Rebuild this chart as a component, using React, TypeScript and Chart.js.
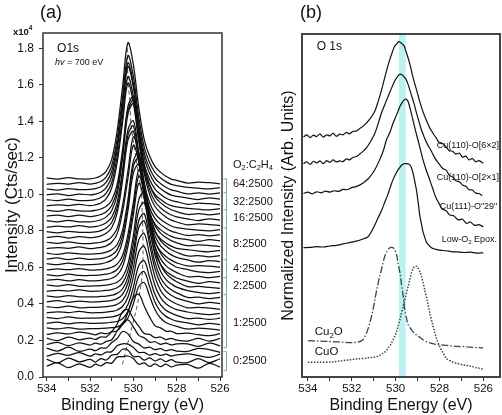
import React, { useEffect, useRef } from 'react';
import { Chart, registerables } from 'chart.js';

Chart.register(...registerables);

const FONT = "'Liberation Sans', Arial, Helvetica, sans-serif";

// ---------------- Panel (a): O1s spectra vs O2:C2H4 ratio ----------------
const energyA = [534, 533.5, 533, 532.5, 532, 531.75, 531.5, 531.25, 531, 530.75, 530.5, 530.25, 530, 529.75, 529.5, 529.25, 529, 528.75, 528.5, 528.25, 528, 527.5, 527, 526.5, 526];

const spec00 = [0.060,0.078,0.051,0.072,0.053,0.071,0.061,0.079,0.076,0.109,0.111,0.115,0.101,0.070,0.077,0.058,0.072,0.057,0.070,0.055,0.065,0.069,0.048,0.075,0.054];
const spec01 = [0.098,0.077,0.104,0.083,0.096,0.082,0.101,0.093,0.120,0.124,0.152,0.147,0.112,0.113,0.092,0.105,0.088,0.099,0.084,0.095,0.081,0.079,0.100,0.079,0.100];
const spec02 = [0.114,0.129,0.119,0.134,0.114,0.126,0.121,0.136,0.139,0.171,0.182,0.180,0.161,0.134,0.135,0.120,0.128,0.118,0.125,0.115,0.121,0.127,0.117,0.107,0.125];
const spec03 = [0.158,0.142,0.163,0.140,0.153,0.144,0.159,0.159,0.189,0.211,0.249,0.236,0.194,0.180,0.159,0.163,0.150,0.155,0.144,0.150,0.142,0.140,0.157,0.150,0.135];
const spec04 = [0.178,0.190,0.172,0.187,0.175,0.186,0.180,0.195,0.204,0.252,0.296,0.312,0.275,0.228,0.215,0.191,0.193,0.179,0.186,0.176,0.182,0.182,0.168,0.185,0.171];
const spec05 = [0.213,0.199,0.218,0.204,0.213,0.206,0.220,0.219,0.249,0.289,0.358,0.368,0.318,0.278,0.238,0.233,0.216,0.219,0.205,0.212,0.202,0.197,0.211,0.197,0.211];
const spec06 = [0.233,0.242,0.236,0.246,0.238,0.231,0.241,0.237,0.247,0.253,0.288,0.353,0.435,0.453,0.389,0.328,0.281,0.269,0.251,0.250,0.238,0.240,0.232,0.226,0.237];
const spec07 = [0.269,0.263,0.271,0.262,0.265,0.265,0.266,0.267,0.270,0.275,0.288,0.324,0.401,0.496,0.517,0.443,0.368,0.323,0.299,0.286,0.277,0.263,0.267,0.263,0.257];
const spec08 = [0.294,0.300,0.291,0.298,0.294,0.294,0.295,0.296,0.300,0.304,0.319,0.360,0.446,0.553,0.577,0.494,0.409,0.359,0.332,0.317,0.306,0.296,0.286,0.294,0.287];
const spec09 = [0.327,0.320,0.329,0.322,0.323,0.323,0.324,0.326,0.329,0.336,0.352,0.397,0.492,0.611,0.637,0.545,0.452,0.396,0.366,0.350,0.338,0.320,0.323,0.315,0.322];
const spec10 = [0.351,0.357,0.353,0.359,0.352,0.352,0.353,0.355,0.359,0.367,0.386,0.438,0.548,0.685,0.716,0.609,0.500,0.436,0.401,0.382,0.369,0.356,0.347,0.342,0.349];
const spec11 = [0.386,0.380,0.388,0.379,0.381,0.381,0.383,0.385,0.389,0.398,0.419,0.477,0.599,0.752,0.786,0.667,0.547,0.475,0.436,0.415,0.400,0.379,0.381,0.377,0.371];
const spec12 = [0.412,0.418,0.409,0.416,0.411,0.411,0.413,0.415,0.420,0.429,0.452,0.515,0.650,0.818,0.855,0.725,0.592,0.513,0.471,0.448,0.432,0.414,0.401,0.409,0.402];
const spec13 = [0.444,0.437,0.446,0.439,0.439,0.439,0.441,0.443,0.448,0.458,0.482,0.547,0.685,0.857,0.895,0.761,0.626,0.545,0.502,0.478,0.461,0.436,0.437,0.429,0.436];
const spec14 = [0.469,0.475,0.471,0.477,0.469,0.470,0.471,0.474,0.479,0.489,0.514,0.583,0.731,0.914,0.955,0.812,0.668,0.581,0.535,0.510,0.492,0.473,0.463,0.457,0.464];
const spec15 = [0.504,0.498,0.506,0.497,0.498,0.499,0.500,0.503,0.509,0.519,0.546,0.619,0.776,0.971,1.014,0.863,0.708,0.616,0.568,0.541,0.522,0.495,0.496,0.491,0.485];
const spec16 = [0.529,0.535,0.526,0.533,0.526,0.527,0.529,0.533,0.541,0.558,0.604,0.716,0.888,1.060,0.974,0.808,0.682,0.618,0.580,0.559,0.542,0.525,0.513,0.522,0.515];
const spec17 = [0.561,0.554,0.563,0.556,0.556,0.557,0.559,0.563,0.571,0.589,0.635,0.750,0.925,1.100,1.012,0.843,0.714,0.648,0.610,0.588,0.572,0.549,0.551,0.544,0.551];
const spec18 = [0.586,0.592,0.588,0.594,0.585,0.586,0.588,0.592,0.601,0.618,0.665,0.781,0.958,1.135,1.047,0.875,0.745,0.679,0.640,0.618,0.601,0.588,0.576,0.572,0.579];
const spec19 = [0.621,0.615,0.623,0.615,0.616,0.617,0.620,0.627,0.640,0.666,0.743,0.911,1.118,1.164,1.003,0.841,0.740,0.689,0.660,0.640,0.625,0.608,0.610,0.607,0.601];
const spec20 = [0.646,0.652,0.643,0.651,0.644,0.646,0.648,0.655,0.668,0.696,0.775,0.944,1.155,1.202,1.038,0.874,0.772,0.719,0.690,0.669,0.655,0.641,0.629,0.638,0.631];
const spec21 = [0.678,0.671,0.680,0.674,0.673,0.675,0.677,0.684,0.697,0.724,0.803,0.972,1.183,1.230,1.066,0.902,0.800,0.747,0.718,0.697,0.683,0.663,0.665,0.658,0.665];
const spec22 = [0.703,0.709,0.705,0.712,0.703,0.706,0.710,0.718,0.738,0.784,0.904,1.087,1.270,1.178,1.001,0.870,0.797,0.757,0.734,0.717,0.705,0.697,0.690,0.686,0.693];
const spec23 = [0.738,0.732,0.740,0.732,0.731,0.734,0.738,0.747,0.767,0.814,0.938,1.127,1.315,1.221,1.038,0.903,0.829,0.788,0.764,0.747,0.735,0.719,0.723,0.720,0.714];
const spec24 = [0.764,0.770,0.761,0.769,0.763,0.766,0.773,0.787,0.817,0.897,1.076,1.297,1.346,1.174,1.002,0.897,0.838,0.807,0.786,0.770,0.761,0.752,0.743,0.752,0.745];
const spec25 = [0.796,0.789,0.798,0.792,0.792,0.795,0.802,0.816,0.846,0.926,1.105,1.326,1.375,1.203,1.031,0.926,0.867,0.836,0.815,0.799,0.790,0.775,0.780,0.773,0.780];
const spec26 = [0.820,0.826,0.822,0.829,0.821,0.824,0.831,0.845,0.875,0.954,1.133,1.354,1.403,1.231,1.059,0.954,0.895,0.864,0.843,0.827,0.818,0.810,0.804,0.800,0.807];
const spec27 = [0.856,0.850,0.858,0.850,0.850,0.853,0.861,0.877,0.911,0.999,1.197,1.441,1.496,1.305,1.115,0.999,0.934,0.900,0.876,0.859,0.849,0.833,0.838,0.835,0.829];
const spec28 = [0.881,0.887,0.878,0.886,0.879,0.882,0.890,0.905,0.939,1.025,1.219,1.461,1.514,1.327,1.139,1.025,0.961,0.927,0.904,0.887,0.877,0.866,0.857,0.866,0.859];
const spec29 = [0.914,0.907,0.916,0.910,0.909,0.912,0.920,0.935,0.968,1.053,1.244,1.482,1.535,1.350,1.165,1.053,0.988,0.955,0.932,0.916,0.906,0.890,0.895,0.888,0.895];
const spec30 = [0.937,0.943,0.939,0.946,0.938,0.943,0.953,0.977,1.035,1.174,1.392,1.610,1.501,1.290,1.133,1.052,1.000,0.973,0.952,0.939,0.932,0.924,0.919,0.915,0.922];
const spec31 = [0.972,0.966,0.974,0.966,0.967,0.972,0.983,1.007,1.065,1.205,1.425,1.645,1.535,1.322,1.164,1.082,1.029,1.001,0.980,0.967,0.960,0.946,0.952,0.949,0.943];
const spec32 = [0.997,1.003,0.994,1.002,0.997,1.002,1.012,1.037,1.098,1.244,1.472,1.700,1.586,1.365,1.201,1.115,1.060,1.032,1.011,0.996,0.989,0.980,0.972,0.981,0.974];
const spec33 = [1.030,1.023,1.032,1.026,1.027,1.032,1.042,1.067,1.127,1.269,1.495,1.720,1.607,1.389,1.227,1.143,1.088,1.060,1.039,1.025,1.018,1.003,1.009,1.002,1.009];
const spec34 = [1.055,1.061,1.057,1.064,1.056,1.061,1.071,1.096,1.157,1.303,1.532,1.760,1.646,1.424,1.260,1.175,1.120,1.091,1.070,1.055,1.048,1.039,1.034,1.030,1.037];
const spec35 = [1.090,1.084,1.092,1.085,1.085,1.090,1.102,1.128,1.192,1.346,1.588,1.830,1.709,1.475,1.301,1.210,1.152,1.122,1.099,1.084,1.077,1.062,1.067,1.064,1.058];

const spectraA = [spec00, spec01, spec02, spec03, spec04, spec05, spec06, spec07, spec08, spec09, spec10, spec11, spec12, spec13, spec14, spec15, spec16, spec17, spec18, spec19, spec20, spec21, spec22, spec23, spec24, spec25, spec26, spec27, spec28, spec29, spec30, spec31, spec32, spec33, spec34, spec35];

// dashed trace of the peak maximum
const traceEnergy = [530.5, 529.62, 529.62, 529.75, 529.88, 530.0, 530.12, 530.17, 530.25, 530.28];
const traceValue = [0.07, 0.53, 1.0, 1.1, 1.2, 1.29, 1.4, 1.52, 1.63, 1.80];

const ratioLabels = ['64:2500', '32:2500', '16:2500', '8:2500', '4:2500', '2:2500', '1:2500', '0:2500'];
const ratioLabelLevels = [1.058, 0.96, 0.872, 0.73, 0.593, 0.5, 0.298, 0.09];
const ratioHeaderLevel = 1.162;
const bracketMain = [1.085, 1.009, 0.916, 0.817, 0.642, 0.544, 0.451, 0.161];
const bracketZero = [0.139, 0.036];

// ---------------- Panel (b): normalized reference spectra ----------------
const e6x2 = [534.2,534.05,533.9,533.75,533.6,533.45,533.3,533.15,533.0,532.85,532.7,532.55,532.4,532.25,532.1,531.95,531.8,531.64,531.45,531.18,530.95,530.8,530.65,530.5,530.35,530.2,530.05,529.95,529.86,529.75,529.62,529.51,529.35,529.21,529.05,528.9,528.75,528.59,528.45,528.29,528.15,528.0,527.85,527.7,527.55,527.4,527.25,527.1,526.95,526.8,526.65,526.5,526.35,526.2,526.0];
const v6x2 = [7.00,7.06,6.98,7.05,7.01,7.09,6.99,7.06,7.03,7.10,7.02,7.08,7.06,7.13,7.09,7.16,7.17,7.24,7.33,7.52,7.75,8.03,8.35,8.72,9.08,9.38,9.64,9.71,9.78,9.74,9.66,9.46,9.12,8.74,8.38,8.03,7.73,7.47,7.27,7.10,6.97,6.82,6.80,6.70,6.60,6.58,6.50,6.53,6.41,6.44,6.33,6.37,6.27,6.31,6.23];

const e2x1 = [534.2,534.05,533.9,533.75,533.6,533.45,533.3,533.15,533.0,532.85,532.7,532.55,532.4,532.25,532.1,531.95,531.79,531.6,531.45,531.33,531.15,530.95,530.8,530.65,530.5,530.35,530.2,530.05,529.89,529.78,529.65,529.51,529.4,529.28,529.15,529.05,528.95,528.82,528.7,528.53,528.4,528.21,528.05,527.85,527.7,527.55,527.4,527.25,527.1,526.95,526.8,526.65,526.5,526.35,526.2,526.05];
const v2x1 = [6.22,6.27,6.20,6.29,6.24,6.30,6.22,6.31,6.26,6.33,6.27,6.30,6.28,6.36,6.33,6.40,6.43,6.52,6.60,6.68,6.86,7.10,7.38,7.69,7.93,8.17,8.40,8.62,8.78,8.83,8.78,8.66,8.47,8.22,7.95,7.70,7.48,7.20,7.00,6.76,6.62,6.38,6.24,6.08,6.03,5.88,5.83,5.72,5.69,5.60,5.56,5.46,5.45,5.36,5.35,5.29];

const eCu111 = [534.2,534.0,533.8,533.6,533.4,533.2,533.0,532.8,532.6,532.4,532.2,532.0,531.8,531.5,531.25,531.05,530.9,530.73,530.55,530.42,530.25,530.12,529.95,529.81,529.68,529.58,529.5,529.43,529.32,529.21,529.1,528.98,528.86,528.75,528.6,528.44,528.3,528.17,528.0,527.89,527.7,527.53,527.35,527.15,526.95,526.77,526.6,526.4,526.2,526.0];
const vCu111 = [5.35,5.39,5.34,5.40,5.37,5.42,5.39,5.43,5.41,5.47,5.46,5.52,5.55,5.65,5.78,5.94,6.10,6.33,6.62,6.91,7.15,7.40,7.65,7.88,8.02,8.10,8.09,8.03,7.78,7.49,7.20,6.91,6.61,6.33,6.02,5.74,5.48,5.24,5.04,4.90,4.85,4.72,4.70,4.58,4.60,4.48,4.52,4.42,4.44,4.38];

const eLowO2 = [534.2,533.9,533.6,533.3,533.0,532.7,532.4,532.1,531.8,531.55,531.27,531.1,530.95,530.8,530.63,530.5,530.36,530.25,530.13,530.0,529.9,529.8,529.72,529.65,529.58,529.5,529.4,529.3,529.22,529.14,529.05,528.97,528.9,528.82,528.75,528.66,528.58,528.45,528.35,528.2,527.99,527.7,527.4,527.21,526.9,526.6,526.3,526.0];
const vLowO2 = [3.77,3.78,3.80,3.79,3.82,3.84,3.88,3.92,3.96,4.01,4.08,4.24,4.43,4.64,4.87,5.09,5.31,5.52,5.74,5.91,6.03,6.12,6.18,6.21,6.22,6.22,6.21,6.14,5.98,5.75,5.45,5.08,4.72,4.45,4.23,4.05,3.91,3.82,3.76,3.73,3.70,3.68,3.65,3.65,3.63,3.64,3.61,3.62];

const eCu2O = [534.0,533.6,533.2,532.86,532.5,532.1,531.8,531.64,531.5,531.41,531.3,531.18,531.05,530.95,530.85,530.73,530.6,530.5,530.4,530.3,530.19,530.1,530.04,529.95,529.89,529.8,529.74,529.65,529.58,529.5,529.43,529.3,529.21,529.1,528.98,528.8,528.59,528.4,528.14,527.8,527.53,527.2,526.77,526.4,526.01];
const vCu2O = [1.06,1.05,1.04,1.03,1.02,1.00,1.01,1.03,1.08,1.17,1.33,1.57,1.90,2.24,2.58,2.92,3.26,3.51,3.66,3.75,3.78,3.76,3.70,3.55,3.31,3.03,2.73,2.33,1.95,1.70,1.52,1.40,1.32,1.25,1.20,1.11,1.03,0.99,0.95,0.93,0.91,0.89,0.88,0.86,0.85];

const eCuO = [534.0,533.5,532.86,532.5,532.1,531.7,531.33,531.1,530.88,530.7,530.58,530.45,530.35,530.22,530.12,530.0,529.89,529.78,529.66,529.55,529.43,529.35,529.28,529.2,529.13,529.05,528.98,528.9,528.82,528.75,528.67,528.55,528.44,528.32,528.21,528.1,527.99,527.85,527.68,527.45,527.22,526.9,526.62,526.3,526.01];
const vCuO = [0.43,0.43,0.44,0.47,0.50,0.53,0.55,0.57,0.59,0.64,0.69,0.75,0.84,0.95,1.08,1.25,1.47,1.74,2.05,2.34,2.64,2.85,3.03,3.16,3.22,3.23,3.17,3.08,2.93,2.76,2.54,2.20,1.86,1.55,1.28,1.06,0.89,0.72,0.54,0.45,0.40,0.35,0.32,0.27,0.23];

const highlightBand = [529.85, 529.54];

// ---------------- helpers ----------------
type Part = [string, 'n' | 'sub' | 'sup' | 'i'];

function drawRich(ctx: CanvasRenderingContext2D, parts: Part[], x: number, y: number, size: number, align: 'left' | 'center' = 'left', weight = 'normal') {
  const fontFor = (m: string) => {
    const s = m === 'sub' || m === 'sup' ? size * 0.68 : size;
    const st = m === 'i' ? 'italic ' : '';
    return `${st}${weight} ${s}px ${FONT}`;
  };
  let total = 0;
  for (const [t, m] of parts) {
    ctx.font = fontFor(m);
    total += ctx.measureText(t).width;
  }
  let cx = align === 'center' ? x - total / 2 : x;
  ctx.textBaseline = 'middle';
  ctx.textAlign = 'left';
  for (const [t, m] of parts) {
    ctx.font = fontFor(m);
    const dy = m === 'sub' ? size * 0.3 : m === 'sup' ? -size * 0.35 : 0;
    ctx.fillText(t, cx, y + dy);
    cx += ctx.measureText(t).width;
  }
}

const toPoints = (xs: number[], ys: number[]) => xs.map((x, i) => ({ x, y: ys[i] }));

const tickGrid = { display: true, drawOnChartArea: false, drawTicks: true, tickLength: 4, color: '#333', lineWidth: 1 };

export default function App() {
  const refA = useRef<HTMLCanvasElement | null>(null);
  const refB = useRef<HTMLCanvasElement | null>(null);

  useEffect(() => {
    if (!refA.current || !refB.current) return;

    const extrasA = {
      id: 'extrasA',
      afterDraw(chart: any) {
        const { ctx, chartArea: ca, scales } = chart;
        const x = scales.x;
        const y = scales.y;
        ctx.save();
        ctx.strokeStyle = '#333';
        ctx.lineWidth = 1.5;
        ctx.strokeRect(ca.left, ca.top, ca.right - ca.left, ca.bottom - ca.top);
        ctx.fillStyle = '#111';
        drawRich(ctx, [['(a)', 'n']], ca.left + 8, 13, 18, 'center');
        drawRich(ctx, [['x10', 'n'], ['4', 'sup']], ca.left - 30, ca.top - 1, 9.5, 'left', 'bold');
        drawRich(ctx, [['O1s', 'n']], x.getPixelForValue(533.52), y.getPixelForValue(1.8), 12);
        drawRich(ctx, [['hv', 'i'], [' = 700 eV', 'n']], x.getPixelForValue(533.62), y.getPixelForValue(1.725), 9);
        const lx = ca.right + 11;
        drawRich(ctx, [['O', 'n'], ['2', 'sub'], [':C', 'n'], ['2', 'sub'], ['H', 'n'], ['4', 'sub']], lx, y.getPixelForValue(ratioHeaderLevel), 11);
        ratioLabels.forEach((t, i) => drawRich(ctx, [[t, 'n']], lx, y.getPixelForValue(ratioLabelLevels[i]), 11));
        ctx.strokeStyle = '#7fa7b1';
        ctx.lineWidth = 1;
        const bx = ca.right + 4.5;
        const drawBracket = (levels: number[]) => {
          const ys = levels.map((v) => y.getPixelForValue(v));
          ctx.beginPath();
          ctx.moveTo(bx, ys[0]);
          ctx.lineTo(bx, ys[ys.length - 1]);
          ys.forEach((py) => {
            ctx.moveTo(bx - 3, py);
            ctx.lineTo(bx, py);
          });
          ctx.stroke();
        };
        drawBracket(bracketMain);
        drawBracket(bracketZero);
        ctx.restore();
      },
    };

    const extrasB = {
      id: 'extrasB',
      beforeDatasetsDraw(chart: any) {
        const { ctx, chartArea: ca, scales } = chart;
        const x1 = scales.x.getPixelForValue(highlightBand[0]);
        const x2 = scales.x.getPixelForValue(highlightBand[1]);
        ctx.save();
        ctx.fillStyle = '#bdf0f3';
        ctx.fillRect(Math.min(x1, x2), ca.top, Math.abs(x2 - x1), ca.bottom - ca.top);
        ctx.restore();
      },
      afterDraw(chart: any) {
        const { ctx, chartArea: ca, scales } = chart;
        const x = scales.x;
        const y = scales.y;
        ctx.save();
        ctx.strokeStyle = '#444';
        ctx.lineWidth = 2;
        ctx.strokeRect(ca.left, ca.top, ca.right - ca.left, ca.bottom - ca.top);
        ctx.fillStyle = '#111';
        drawRich(ctx, [['(b)', 'n']], ca.left + 9, 13, 18, 'center');
        drawRich(ctx, [['O 1s', 'n']], x.getPixelForValue(533.6), y.getPixelForValue(9.62), 12);
        drawRich(ctx, [['Cu(110)-O[6×2]', 'n']], x.getPixelForValue(528.12), y.getPixelForValue(6.76), 9);
        drawRich(ctx, [['Cu(110)-O[2×1]', 'n']], x.getPixelForValue(528.12), y.getPixelForValue(5.83), 9);
        drawRich(ctx, [['Cu(111)-O"29"', 'n']], x.getPixelForValue(527.99), y.getPixelForValue(4.96), 9);
        drawRich(ctx, [['Low-O', 'n'], ['2', 'sub'], [' Epox.', 'n']], x.getPixelForValue(527.9), y.getPixelForValue(4.02), 9);
        drawRich(ctx, [['Cu', 'n'], ['2', 'sub'], ['O', 'n']], x.getPixelForValue(533.69), y.getPixelForValue(1.31), 11.5);
        drawRich(ctx, [['CuO', 'n']], x.getPixelForValue(533.69), y.getPixelForValue(0.73), 11.5);
        ctx.restore();
      },
    };

    const datasetsA: any[] = spectraA.map((vals) => ({
      data: toPoints(energyA, vals),
      borderColor: '#111',
      borderWidth: 1.25,
      pointRadius: 0,
      tension: 0.35,
      fill: false,
    }));
    datasetsA.push({
      data: toPoints(traceEnergy, traceValue),
      borderColor: '#555',
      borderWidth: 1,
      borderDash: [4, 3],
      pointRadius: 0,
      tension: 0.3,
      fill: false,
    });

    const chartA = new Chart(refA.current, {
      type: 'line',
      data: { datasets: datasetsA },
      options: {
        responsive: false,
        animation: false,
        devicePixelRatio: 1,
        events: [],
        layout: { padding: { left: 0, top: 33, right: 58, bottom: 0 } },
        plugins: { legend: { display: false }, tooltip: { enabled: false } },
        scales: {
          x: {
            type: 'linear',
            reverse: true,
            min: 525.91,
            max: 534.17,
            afterFit: (s: any) => { s.height = 38; },
            border: { display: false },
            grid: tickGrid,
            ticks: {
              stepSize: 1,
              includeBounds: false,
              autoSkip: false,
              maxRotation: 0,
              padding: 1,
              color: '#111',
              font: { size: 11.5, family: FONT },
              callback: (v: any) => (Math.round(Number(v)) % 2 === 0 ? String(v) : ''),
            },
            title: { display: true, text: 'Binding Energy (eV)', color: '#111', font: { size: 16, family: FONT }, padding: { top: 0, bottom: 0 } },
          },
          y: {
            type: 'linear',
            min: 0,
            max: 1.884,
            afterFit: (s: any) => { s.width = 43; },
            border: { display: false },
            grid: tickGrid,
            ticks: {
              stepSize: 0.2,
              includeBounds: false,
              autoSkip: false,
              padding: 5,
              color: '#111',
              font: { size: 12, family: FONT },
              callback: (v: any) => Number(v).toFixed(1),
            },
            title: { display: true, text: 'Intensity (Cts/sec)', color: '#111', font: { size: 17, family: FONT }, padding: { top: 2, bottom: 0 } },
          },
        },
      } as any,
      plugins: [extrasA],
    });

    const solid = (xs: number[], ys: number[]) => ({
      data: toPoints(xs, ys),
      borderColor: '#111',
      borderWidth: 1.2,
      pointRadius: 0,
      tension: 0.25,
      fill: false,
    });

    const chartB = new Chart(refB.current, {
      type: 'line',
      data: {
        datasets: [
          solid(e6x2, v6x2),
          solid(e2x1, v2x1),
          solid(eCu111, vCu111),
          solid(eLowO2, vLowO2),
          { data: toPoints(eCu2O, vCu2O), borderColor: '#2e4a50', borderWidth: 1.3, borderDash: [7, 2, 1.5, 2], pointRadius: 0, tension: 0.3, fill: false },
          { data: toPoints(eCuO, vCuO), borderColor: '#36474c', borderWidth: 1.5, borderDash: [1.5, 1.5], pointRadius: 0, tension: 0.3, fill: false },
        ],
      },
      options: {
        responsive: false,
        animation: false,
        devicePixelRatio: 1,
        events: [],
        layout: { padding: { left: 0, top: 34, right: 2, bottom: 0 } },
        plugins: { legend: { display: false }, tooltip: { enabled: false } },
        scales: {
          x: {
            type: 'linear',
            reverse: true,
            min: 525.24,
            max: 534.27,
            afterFit: (s: any) => { s.height = 38; },
            border: { display: false },
            grid: tickGrid,
            ticks: {
              stepSize: 1,
              includeBounds: false,
              autoSkip: false,
              maxRotation: 0,
              padding: 1,
              color: '#111',
              font: { size: 11.5, family: FONT },
              callback: (v: any) => (Math.round(Number(v)) % 2 === 0 ? String(v) : ''),
            },
            title: { display: true, text: 'Binding Energy (eV)', color: '#111', font: { size: 16, family: FONT }, padding: { top: 0, bottom: 0 } },
          },
          y: {
            type: 'linear',
            min: 0,
            max: 10,
            afterFit: (s: any) => { s.width = 52; },
            border: { display: false },
            grid: { display: false },
            ticks: { display: false },
            title: { display: true, text: 'Normalized Intensity (Arb. Units)', color: '#111', font: { size: 16, family: FONT }, padding: { top: 29.4, bottom: 0 } },
          },
        },
      } as any,
      plugins: [extrasB],
    });

    return () => {
      chartA.destroy();
      chartB.destroy();
    };
  }, []);

  return (
    <div style={{ position: 'absolute', left: 0, top: 0, width: 502, height: 415, background: '#fff', overflow: 'hidden' }}>
      <canvas ref={refA} width={280} height={415} style={{ position: 'absolute', left: 0, top: 0 }} />
      <canvas ref={refB} width={252} height={415} style={{ position: 'absolute', left: 250, top: 0 }} />
    </div>
  );
}
